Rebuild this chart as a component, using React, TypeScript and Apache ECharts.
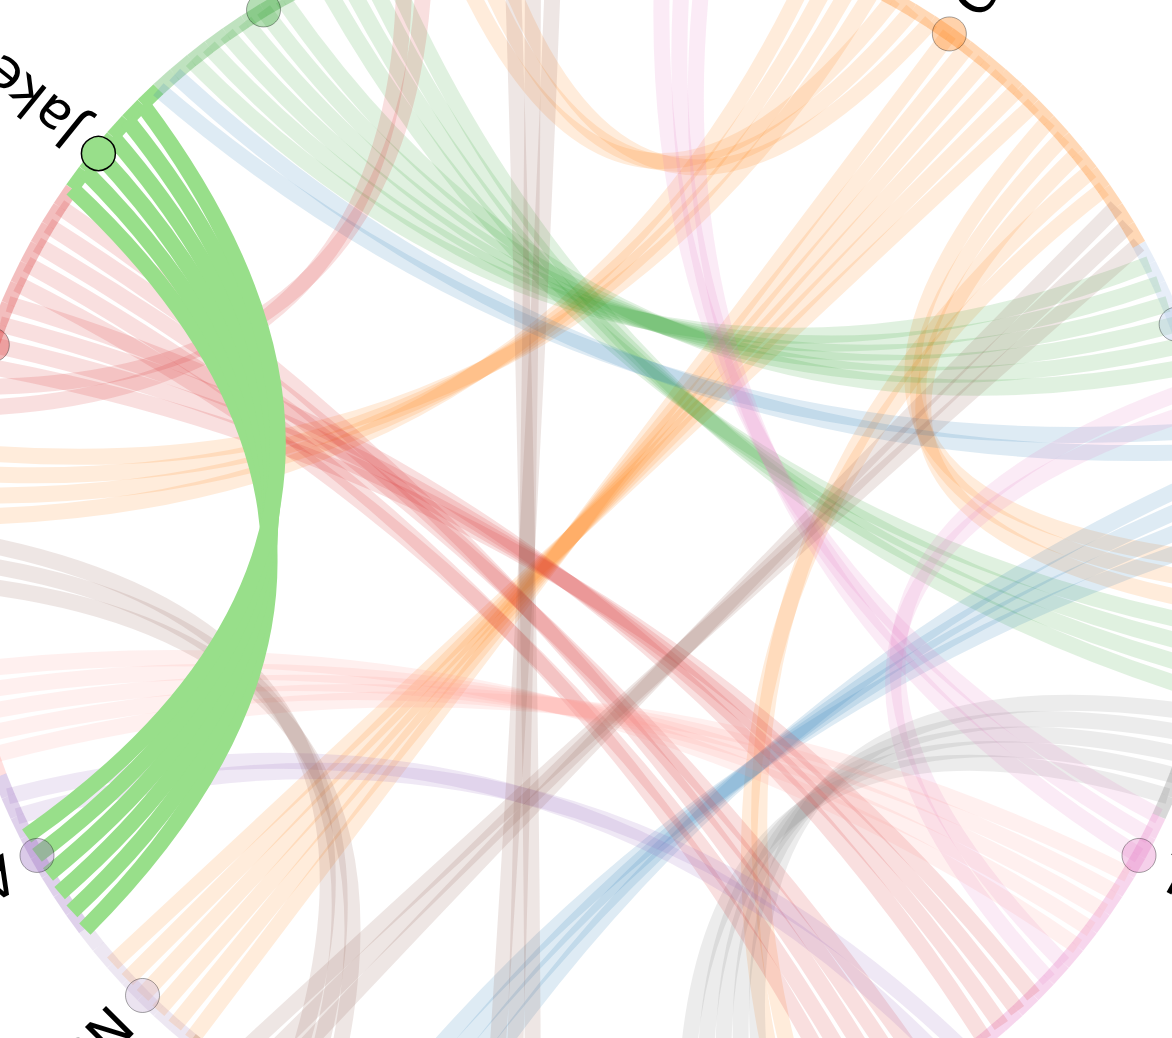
import React, { useEffect, useRef } from "react";
import * as echarts from "echarts";

// People placed around the circle (clockwise from the right), each owning a run of link slots
const personNames = ["Lucas", "Tina", "Ethan", "Mason", "Nora", "Ava", "Rosa", "Ruby", "Jake", "Gabe", "Olga", "Owen", "Liam", "Ben"];
const personColors = ["#7f7f7f", "#e377c2", "#c49c94", "#8c564b", "#c5b0d5", "#9467bd", "#ff9896", "#d62728", "#98df8a", "#2ca02c", "#ffbb78", "#ff7f0e", "#aec7e8", "#1f77b4"];
const personSlots = [12, 14, 17, 21, 7, 8, 16, 12, 6, 13, 19, 20, 8, 7];
const personMainSlot = [5, 2, 8, 10, 3, 4, 8, 4, 2, 6, 9, 7, 4, 3];
const focusPerson = 8; // Jake

// Bundles of links: first slot at each end, number of strands, curveness
const bandFrom = [152, 145, 149, 158, 161, 115, 122, 174, 176, 20, 7, 98, 96, 102, 104, 80, 77, 47, 57, 12, 60, 107];
const bandTo = [64, 91, 128, 0, 34, 166, 3, 113, 52, 172, 36, 22, 126, 31, 28, 15, 26, 131, 88, 138, 163, 71];
const bandSize = [6, 4, 3, 3, 2, 6, 4, 2, 4, 2, 5, 4, 2, 2, 3, 5, 2, 3, 3, 3, 3, 6];
const bandCurve = [0.02, 0.29, 0.22, 0.26, 0.3, 0.27, 0.28, 0.25, 0.15, 0.28, 0.26, 0.5, 0.19, 0.3, 0.3, 0.27, 0.24, 0.05, 0.24, 0.3, 0.02, 0.25];

export default function App() {
  const ref = useRef<HTMLDivElement>(null);

  useEffect(() => {
    if (!ref.current) return;
    const chart = echarts.init(ref.current, undefined, { renderer: "svg" });

    const owner: number[] = [];
    const starts: number[] = [];
    personSlots.forEach((n, p) => {
      starts.push(owner.length);
      for (let k = 0; k < n; k++) owner.push(p);
    });
    const total = owner.length;

    const nodes = owner.map((p, i) => {
      const isMain = i === starts[p] + personMainSlot[p];
      const focus = p === focusPerson;
      const phi = ((i + 0.5) * 360) / total;
      return {
        name: "n" + i,
        symbol: isMain ? "circle" : "none",
        symbolSize: 34,
        itemStyle: {
          color: personColors[p],
          opacity: focus ? 1 : 0.35,
          borderColor: "#000",
          borderWidth: focus ? 1.5 : 1,
        },
        label: isMain
          ? {
              show: true,
              formatter: personNames[p],
              position: "inside",
              align: "left",
              verticalAlign: "middle",
              rotate: -phi,
              padding: [0, 0, 0, 28],
              fontSize: 54,
              color: "#000",
              opacity: 1,
              fontFamily: "DejaVu Sans",
            }
          : { show: false },
      };
    });

    const links: any[] = [];
    // rim segments between neighbouring slots, coloured by the slot's owner
    owner.forEach((p, i) => {
      links.push({
        source: i,
        target: (i + 1) % total,
        lineStyle: {
          color: personColors[p],
          opacity: p === focusPerson ? 1 : 0.3,
          width: 14,
          curveness: 0,
        },
      });
    });
    bandFrom.forEach((from, b) => {
      const p = owner[from];
      for (let k = 0; k < bandSize[b]; k++) {
        links.push({
          source: from + k,
          target: bandTo[b] + k,
          lineStyle: {
            color: personColors[p],
            opacity: p === focusPerson ? 1 : 0.15,
            width: 16,
            curveness: bandCurve[b],
          },
        });
      }
    });

    chart.setOption({
      animation: false,
      backgroundColor: "#ffffff",
      series: [
        {
          type: "graph",
          layout: "circular",
          left: -42,
          top: -80,
          width: 1260,
          height: 1260,
          roam: false,
          silent: true,
          circular: { rotateLabel: false },
          emphasis: { disabled: true },
          data: nodes,
          links,
        },
      ],
    });

    return () => chart.dispose();
  }, []);

  return (
    <div
      ref={ref}
      style={{ position: "fixed", left: 0, top: 0, width: 1172, height: 1038 }}
    />
  );
}
